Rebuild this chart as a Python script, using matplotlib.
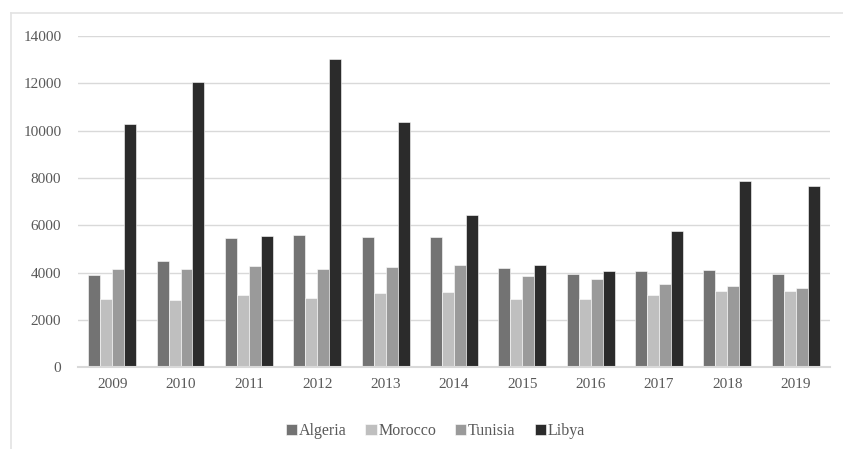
import matplotlib
matplotlib.use('Agg')
import matplotlib.pyplot as plt
from matplotlib.lines import Line2D
import numpy as np

years = ['2009', '2010', '2011', '2012', '2013', '2014', '2015', '2016', '2017', '2018', '2019']
algeria = [3900, 4480, 5460, 5580, 5500, 5500, 4200, 3950, 4050, 4120, 3950]
morocco = [2870, 2850, 3060, 2920, 3130, 3190, 2880, 2900, 3060, 3230, 3210]
tunisia = [4140, 4160, 4270, 4160, 4240, 4310, 3860, 3720, 3500, 3450, 3330]
libya = [10270, 12050, 5560, 13020, 10350, 6450, 4340, 4050, 5760, 7880, 7680]

series = [('Algeria', algeria, '#737373'),
          ('Morocco', morocco, '#bfbfbf'),
          ('Tunisia', tunisia, '#9a9a9a'),
          ('Libya', libya, '#2b2b2b')]

plt.rcParams['font.family'] = ['Liberation Serif', 'DejaVu Serif']

fig = plt.figure(figsize=(8.43, 4.49), dpi=100)
ax = fig.add_axes([0.0925, 0.182, 0.892, 0.738])

x = np.arange(len(years))
w = 0.175
for i, (name, vals, col) in enumerate(series):
    ax.bar(x + (i - 1.5) * w, vals, w, color=col, label=name,
           edgecolor='white', linewidth=0.4, zorder=3)

ax.set_xlim(-0.5, len(years) - 0.5)
ax.set_ylim(0, 14000)
ax.set_yticks(range(0, 14001, 2000))
ax.set_xticks(x)
ax.set_xticklabels(years)
ax.grid(axis='y', color='#d9d9d9', linewidth=1, zorder=0)
ax.tick_params(length=0, labelsize=11, colors='#595959', pad=8)
ax.tick_params(axis='y', pad=12)
for s in ['top', 'right', 'left']:
    ax.spines[s].set_visible(False)
ax.spines['bottom'].set_color('#d9d9d9')
ax.spines['bottom'].set_linewidth(1.5)
ax.spines['bottom'].set_zorder(4)

leg = ax.legend(loc='upper center', bbox_to_anchor=(0.475, -0.125), ncol=4,
                frameon=False, fontsize=11.5, handlelength=0.7, handleheight=0.7,
                handletextpad=0.1, columnspacing=1.2)
for t in leg.get_texts():
    t.set_color('#595959')

# outer frame: left and top edges only
fig.add_artist(Line2D([11 / 843, 11 / 843], [0, 1 - 13 / 449], color='#e3e3e3', linewidth=1.2))
fig.add_artist(Line2D([11 / 843, 1], [1 - 13 / 449, 1 - 13 / 449], color='#e3e3e3', linewidth=1.2))

fig.savefig('out.png', dpi=100)
